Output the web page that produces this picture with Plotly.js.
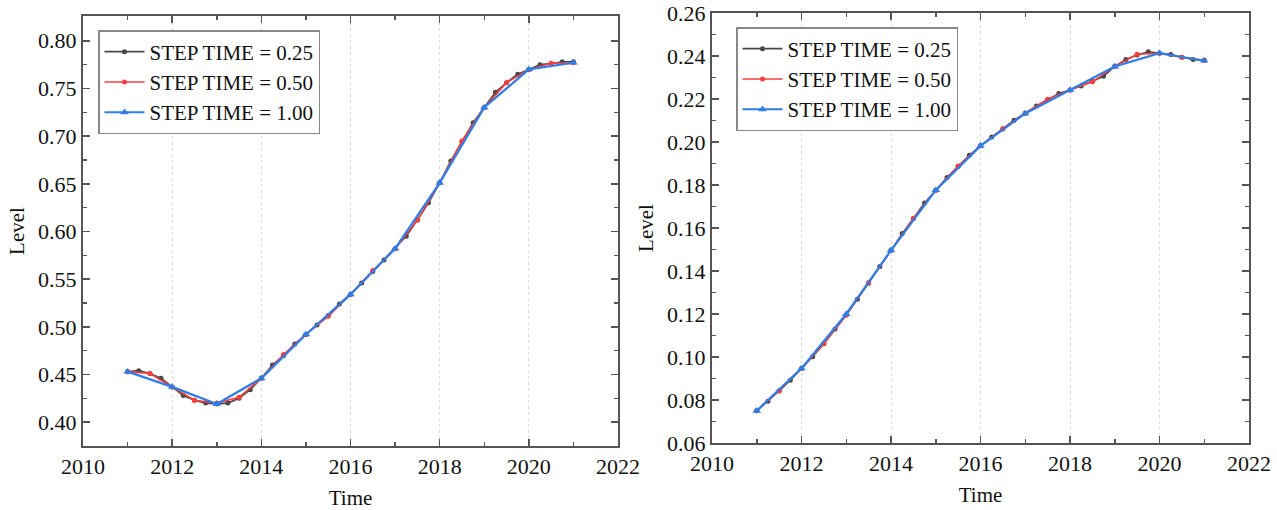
<!DOCTYPE html>
<html>
<head>
<meta charset="utf-8">
<script src="https://cdn.plot.ly/plotly-3.0.1.min.js"></script>
<style>html,body{margin:0;padding:0;background:#fff;}#chart{width:1277px;height:510px;}</style>
</head>
<body>
<div id="chart"></div>
<script>
// Time axes
const t025 = [2011,2011.25,2011.5,2011.75,2012,2012.25,2012.5,2012.75,2013,2013.25,2013.5,2013.75,2014,2014.25,2014.5,2014.75,2015,2015.25,2015.5,2015.75,2016,2016.25,2016.5,2016.75,2017,2017.25,2017.5,2017.75,2018,2018.25,2018.5,2018.75,2019,2019.25,2019.5,2019.75,2020,2020.25,2020.5,2020.75,2021];
const t050 = [2011,2011.5,2012,2012.5,2013,2013.5,2014,2014.5,2015,2015.5,2016,2016.5,2017,2017.5,2018,2018.5,2019,2019.5,2020,2020.5,2021];
const t100 = [2011,2012,2013,2014,2015,2016,2017,2018,2019,2020,2021];

// Left panel values
const leftStep025 = [0.453,0.454,0.451,0.446,0.437,0.428,0.423,0.420,0.419,0.420,0.425,0.434,0.446,0.460,0.470,0.482,0.492,0.502,0.512,0.524,0.534,0.546,0.558,0.570,0.582,0.595,0.612,0.630,0.651,0.674,0.694,0.714,0.730,0.746,0.756,0.765,0.770,0.775,0.776,0.778,0.778];
const leftStep050 = [0.453,0.451,0.437,0.423,0.420,0.426,0.446,0.471,0.492,0.511,0.534,0.559,0.582,0.612,0.651,0.695,0.730,0.756,0.770,0.7765,0.777];
const leftStep100 = [0.453,0.437,0.419,0.446,0.492,0.534,0.582,0.651,0.730,0.770,0.777];

// Right panel values
const rightStep025 = [0.075,0.0794,0.0842,0.0892,0.0947,0.1001,0.1062,0.1130,0.1195,0.1269,0.1343,0.1421,0.1496,0.1574,0.1644,0.1716,0.1776,0.1835,0.1887,0.1938,0.1982,0.2023,0.2061,0.2101,0.2134,0.2168,0.2196,0.2226,0.2242,0.2261,0.2282,0.2306,0.2352,0.2384,0.2405,0.2420,0.2413,0.2407,0.2394,0.2384,0.2380];
const rightStep050 = [0.075,0.0843,0.0947,0.1063,0.1195,0.1347,0.1496,0.1644,0.1776,0.1888,0.1982,0.2062,0.2134,0.2199,0.2242,0.2280,0.2352,0.2408,0.2413,0.2394,0.2380];
const rightStep100 = [0.075,0.0947,0.1200,0.1496,0.1776,0.1982,0.2133,0.2241,0.2351,0.2413,0.2378];

const seriesNames = ['STEP TIME = 0.25','STEP TIME = 0.50','STEP TIME = 1.00'];
const colors = ['#484848','#ff3b3b','#2f7de6'];

function mk(x, y, i, xa, ya, leg) {
  const sym = i === 2 ? 'triangle-up' : 'circle';
  const ms = i === 2 ? 7.5 : 5;
  return {
    x: x, y: y, xaxis: xa, yaxis: ya, legend: leg,
    type: 'scatter', mode: 'lines+markers', name: seriesNames[i],
    line: {color: colors[i], width: i === 2 ? 2.2 : 1.6},
    marker: {color: colors[i], size: ms, symbol: sym}
  };
}

const data = [
  mk(t025, leftStep025, 0, 'x', 'y', 'legend'),
  mk(t050, leftStep050, 1, 'x', 'y', 'legend'),
  mk(t100, leftStep100, 2, 'x', 'y', 'legend'),
  mk(t025, rightStep025, 0, 'x2', 'y2', 'legend2'),
  mk(t050, rightStep050, 1, 'x2', 'y2', 'legend2'),
  mk(t100, rightStep100, 2, 'x2', 'y2', 'legend2')
];

const FONT = 'Liberation Serif';
const axBase = {
  showline: true, mirror: 'ticks', linecolor: '#555', linewidth: 2,
  ticks: 'inside', ticklen: 7, tickwidth: 1.5, tickcolor: '#555',
  tickfont: {family: FONT, size: 22, color: '#111'},
  zeroline: false
};
function xax(domain, anchor) {
  return Object.assign({}, axBase, {
    domain: domain, anchor: anchor, range: [2010, 2022], dtick: 2, tick0: 2010,
    showgrid: true, gridcolor: '#dadada', griddash: 'dot', gridwidth: 1,
    minor: {dtick: 1, ticks: 'inside', ticklen: 4, tickcolor: '#555', showgrid: false},
    title: {text: 'Time', font: {family: FONT, size: 21, color: '#111'}, standoff: 12}
  });
}
function yax(domain, anchor, range, dtick, minordt, fmt) {
  return Object.assign({}, axBase, {
    domain: domain, anchor: anchor, range: range, dtick: dtick, tick0: 0, tickformat: fmt,
    showgrid: false,
    minor: {dtick: minordt, ticks: 'inside', ticklen: 4, tickcolor: '#555', showgrid: false},
    title: {text: 'Level', font: {family: FONT, size: 21, color: '#111'}, standoff: 8}
  });
}

const legBase = {
  bgcolor: '#fff', bordercolor: '#888', borderwidth: 1.5,
  font: {family: FONT, size: 21, color: '#111'},
  xanchor: 'left', yanchor: 'top', tracegroupgap: 0, itemwidth: 40
};

const layout = {
  width: 1277, height: 510,
  margin: {l: 0, r: 0, t: 0, b: 0},
  font: {family: FONT, color: '#111'},
  paper_bgcolor: '#fff', plot_bgcolor: '#fff',
  showlegend: true,
  xaxis: xax([83/1277, 618/1277], 'y'),
  yaxis: yax([1 - 446/510, 1 - 16/510], 'x', [0.375, 0.826], 0.05, 0.025, '.2f'),
  xaxis2: xax([712/1277, 1249/1277], 'y2'),
  yaxis2: yax([1 - 443/510, 1 - 13/510], 'x2', [0.06, 0.26], 0.02, 0.01, '.2f'),
  legend: Object.assign({}, legBase, {x: 98/1277, y: 1 - 30/510}),
  legend2: Object.assign({}, legBase, {x: 736/1277, y: 1 - 27/510})
};

Plotly.newPlot('chart', data, layout, {displayModeBar: false, staticPlot: true});
</script>
</body>
</html>
